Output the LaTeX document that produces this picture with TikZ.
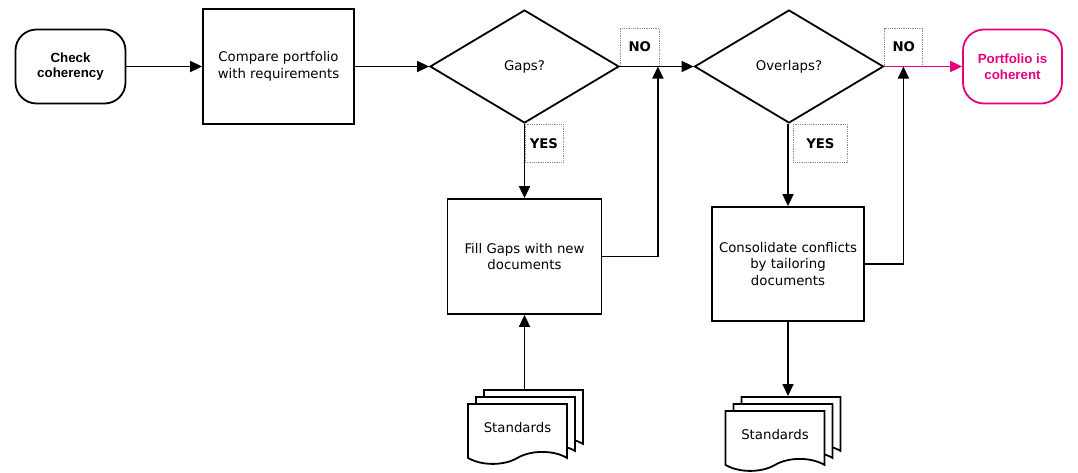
\documentclass[tikz,border=0pt]{standalone}
\usepackage{fontspec}
\setmainfont{DejaVu Sans}
\newfontfamily\termfont{Liberation Sans}
\usepackage{xcolor}
\usetikzlibrary{positioning,shapes.geometric,shapes.symbols,shadows,arrows.meta}
\definecolor{endpink}{RGB}{230,0,126}
\tikzstyle{process}=[rectangle, draw=black, line width=1.8pt, fill=white, align=center,
  font=\fontsize{13.3}{16.5}\selectfont]
\tikzstyle{terminal}=[rectangle, rounded corners=21pt, draw=black, line width=1.8pt,
  align=center, minimum width=110pt, minimum height=74pt, font=\termfont\bfseries\fontsize{13.3}{15.5}\selectfont]
\tikzstyle{decision}=[diamond, draw=black, line width=1.8pt, aspect=1.67, minimum width=189pt,
  minimum height=113pt, inner sep=0pt, font=\fontsize{13.3}{16}\selectfont]
\tikzstyle{answer}=[rectangle, draw=black!45, densely dotted, line width=0.8pt, inner sep=0pt,
  minimum height=38pt, font=\bfseries\fontsize{13.3}{16}\selectfont]
\tikzstyle{docstack}=[tape, tape bend top=none, tape bend bottom=in and out, tape bend height=12pt,
  draw=black, line width=1.8pt, fill=white, minimum width=99pt, minimum height=60pt,
  font=\fontsize{13.3}{16}\selectfont,
  copy shadow={shadow xshift=16pt, shadow yshift=14pt, fill=white, draw=black, line width=1.8pt},
  copy shadow={shadow xshift=8pt, shadow yshift=7pt, fill=white, draw=black, line width=1.8pt}]
\tikzstyle{arr}=[-{Triangle[length=12pt,width=11pt]}, line width=1.8pt]

\begin{document}
\begin{tikzpicture}[x=1pt, y=-1pt]
    \useasboundingbox (0,0) rectangle (1078,472);
    % main line
    \node (check)[terminal] at (70.5,66.5) {Check\\coherency};
    \node (compare)[process, minimum width=151pt, minimum height=115pt] at (278.5,66.5)
        {Compare portfolio\\with requirements};
    \node (gaps)[decision] at (524.5,66.5) {Gaps?};
    \node (overlaps)[decision] at (789,66.5) {Overlaps?};
    \node (coherent)[terminal, draw=endpink, text=endpink, minimum width=99pt] at (1012.5,66.5)
        {Portfolio is\\coherent};
    % answers
    \node (no1)[answer, anchor=south west, minimum width=39pt] at (gaps.east) {NO};
    \node (yes1)[answer, anchor=north west, minimum width=38pt] at (gaps.south) {YES};
    \node (no2)[answer, anchor=south west, minimum width=38pt] at (overlaps.east) {NO};
    \node (yes2)[answer, anchor=north west, minimum width=54pt, xshift=4pt] at (overlaps.south) {YES};
    % actions
    \node (fill)[process, minimum width=154pt, minimum height=115pt] at (524.5,256.5)
        {Fill Gaps with new\\documents};
    \node (consolidate)[process, minimum width=152pt, minimum height=114pt] at (788,264)
        {Consolidate conflicts\\by tailoring\\documents};
    \node (std1)[docstack, anchor=north] at (517.5,403) {Standards};
    \node (std2)[docstack, anchor=north] at (775,410) {Standards};
    \coordinate (std1top) at ([yshift=14pt]std1.north);
    \coordinate (std2top) at ([yshift=14pt]std2.north);

    \draw [arr] (check) -- (compare);
    \draw [arr] (compare) -- (gaps);
    \draw [arr] (gaps) -- (overlaps);
    \draw [arr, endpink] (overlaps.east) -- (coherent);
    \draw [arr] (gaps.south) -- (fill.north);
    \draw [arr] (fill.south |- std1top) -- (fill.south);
    \draw [arr] (fill.east) -| ([xshift=38pt]gaps.east);
    \draw [arr] (overlaps.south -| consolidate.north) -- (consolidate.north);
    \draw [arr] (consolidate.south) -- (consolidate.south |- std2top);
    \draw [arr] (consolidate.east) -| ([xshift=19pt]overlaps.east);
\end{tikzpicture}
\end{document}
